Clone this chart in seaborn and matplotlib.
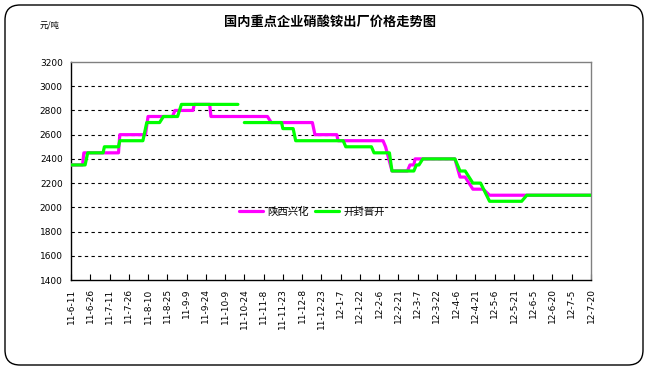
import pandas as pd
import matplotlib
matplotlib.use("Agg")
import matplotlib.pyplot as plt
from matplotlib.patches import FancyBboxPatch
import seaborn as sns

# --- datos ---
tick_labels = ["11-6-11", "11-6-26", "11-7-11", "11-7-26", "11-8-10", "11-8-25",
               "11-9-9", "11-9-24", "11-10-9", "11-10-24", "11-11-8", "11-11-23",
               "11-12-8", "11-12-23", "12-1-7", "12-1-22", "12-2-6", "12-2-21",
               "12-3-7", "12-3-22", "12-4-6", "12-4-21", "12-5-6", "12-5-21",
               "12-6-5", "12-6-20", "12-7-5", "12-7-20"]

shaanxi_dates = ["2011-06-11", "2011-06-20", "2011-06-21", "2011-07-18", "2011-07-19",
                 "2011-08-08", "2011-08-10", "2011-08-29", "2011-08-31", "2011-09-14",
                 "2011-09-15", "2011-09-27", "2011-09-28", "2011-11-11", "2011-11-14",
                 "2011-12-16", "2011-12-18", "2012-01-04", "2012-01-05", "2012-02-09",
                 "2012-02-11", "2012-02-16", "2012-02-28", "2012-03-01", "2012-03-04",
                 "2012-03-05", "2012-04-05", "2012-04-09", "2012-04-13", "2012-04-19",
                 "2012-04-27", "2012-05-02", "2012-07-20"]
shaanxi_price = [2350, 2350, 2450, 2450, 2600,
                 2600, 2750, 2750, 2800, 2800,
                 2850, 2850, 2750, 2750, 2700,
                 2700, 2600, 2600, 2550, 2550,
                 2500, 2300, 2300, 2350, 2350,
                 2400, 2400, 2250, 2250, 2150,
                 2150, 2100, 2100]

kaifeng_dates_1 = ["2011-06-11", "2011-06-22", "2011-06-24", "2011-07-06", "2011-07-07",
                   "2011-07-18", "2011-07-19", "2011-08-06", "2011-08-09", "2011-08-19",
                   "2011-08-22", "2011-09-02", "2011-09-05", "2011-10-19"]
kaifeng_price_1 = [2350, 2350, 2450, 2450, 2500,
                   2500, 2550, 2550, 2700, 2700,
                   2750, 2750, 2850, 2850]
kaifeng_dates_2 = ["2011-10-24", "2011-11-22", "2011-11-23", "2011-12-01", "2011-12-03",
                   "2012-01-09", "2012-01-11", "2012-01-31", "2012-02-02", "2012-02-14",
                   "2012-02-16", "2012-03-04", "2012-03-06", "2012-03-08", "2012-03-11",
                   "2012-04-05", "2012-04-09", "2012-04-13", "2012-04-19", "2012-04-25",
                   "2012-05-02", "2012-05-27", "2012-05-31", "2012-07-20"]
kaifeng_price_2 = [2700, 2700, 2650, 2650, 2550,
                   2550, 2500, 2500, 2450, 2450,
                   2300, 2300, 2350, 2350, 2400,
                   2400, 2300, 2300, 2200, 2200,
                   2050, 2050, 2100, 2100]

series_names = ["陕西兴化", "开封晋开"]
colors = {"陕西兴化": "#FF00FF", "开封晋开": "#00FF00"}

frames = [
    pd.DataFrame({"fecha": pd.to_datetime(shaanxi_dates), "precio": shaanxi_price,
                  "serie": series_names[0], "seg": 0}),
    pd.DataFrame({"fecha": pd.to_datetime(kaifeng_dates_1), "precio": kaifeng_price_1,
                  "serie": series_names[1], "seg": 1}),
    pd.DataFrame({"fecha": pd.to_datetime(kaifeng_dates_2), "precio": kaifeng_price_2,
                  "serie": series_names[1], "seg": 2}),
]
df = pd.concat(frames, ignore_index=True)

tick_dates = pd.to_datetime(["20" + t for t in tick_labels], format="%Y-%m-%d")

# --- estilo ---
sns.set_style("white")
plt.rcParams["font.family"] = ["Noto Sans CJK SC", "DejaVu Sans"]
plt.rcParams.update({"text.color": "black", "xtick.color": "black",
                     "ytick.color": "black", "axes.labelcolor": "black"})

fig = plt.figure(figsize=(6.5, 3.72), dpi=100)
ax = fig.add_axes([71 / 650, 92 / 372, 520 / 650, 218 / 372])

sns.lineplot(data=df, x="fecha", y="precio", hue="serie", units="seg",
             estimator=None, palette=colors, hue_order=series_names,
             linewidth=2.3, ax=ax, zorder=3)

ax.set_xlim(tick_dates[0], tick_dates[-1])
ax.set_ylim(1400, 3200)
ax.set_yticks(range(1400, 3201, 200))
ax.set_xticks(tick_dates)
ax.set_xticklabels(tick_labels, rotation=90, fontsize=6.5, family="DejaVu Sans")
ax.tick_params(axis="y", labelsize=6.5, length=0, pad=6)
ax.tick_params(axis="x", direction="in", length=4, width=0.8, pad=6, bottom=True)
for lab in ax.get_yticklabels():
    lab.set_family("DejaVu Sans")

for v in range(1600, 3001, 200):
    ax.axhline(v, color="black", lw=0.8, ls=(0, (3, 3)), zorder=1)

ax.set_xlabel("")
ax.set_ylabel("")
for s in ["left", "bottom"]:
    ax.spines[s].set_color("black")
    ax.spines[s].set_linewidth(1.0)
for s in ["top", "right"]:
    ax.spines[s].set_color("#808080")
    ax.spines[s].set_linewidth(1.0)

sns.move_legend(ax, loc="center", bbox_to_anchor=(0.4635, 0.312), ncol=2,
                frameon=False, title=None, fontsize=7.5, handlelength=2.3,
                handletextpad=0.4, columnspacing=0.6)

fig.text(0.508, 1 - 22 / 372, "国内重点企业硝酸铵出厂价格走势图", ha="center", va="center",
         fontsize=9.5, fontweight="bold", color="black")
fig.text(50 / 650, 1 - 25 / 372, "元/吨", ha="center", va="center", fontsize=6,
         color="black")

border = FancyBboxPatch((0.05, 0.07), 6.38, 3.6,
                        boxstyle="round,pad=0,rounding_size=0.15",
                        transform=fig.dpi_scale_trans, fill=False,
                        edgecolor="black", linewidth=1.0)
fig.patches.append(border)

fig.savefig("out.png", dpi=100)
